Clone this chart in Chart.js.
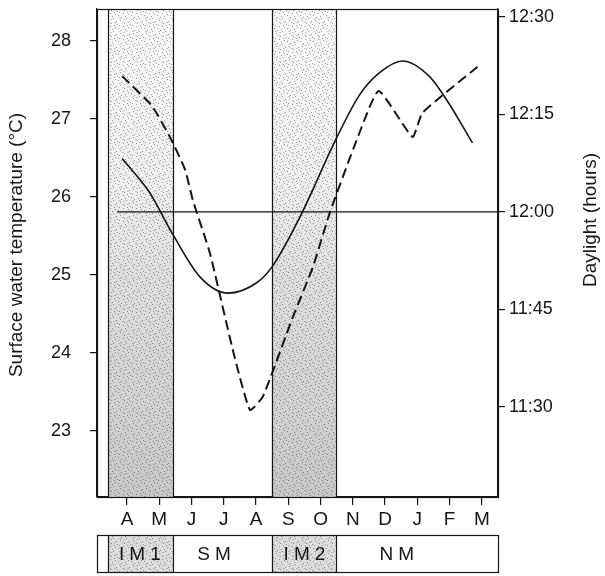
<!DOCTYPE html>
<html>
<head>
<meta charset="utf-8">
<script src="https://cdn.jsdelivr.net/npm/chart.js@4.4.1/dist/chart.umd.min.js"></script>
<style>
    html, body { margin: 0; padding: 0; background: #fff; }
    #wrap { width: 605px; height: 576px; }
</style>
</head>
<body>
<div id="wrap"><canvas id="chart" width="605" height="576"></canvas></div>
<script>
// month axis, x = 0 is April
const months = ['A', 'M', 'J', 'J', 'A', 'S', 'O', 'N', 'D', 'J', 'F', 'M'];

// surface water temperature (dashed), degC
const tempX = [-0.15, 0.77, 1.33, 1.8, 2.04, 2.57, 3.28, 3.81, 4.21, 5.14, 5.76, 6.28, 7.12, 7.8, 8.85, 9.16, 10.87];
const tempC = [27.55, 27.17, 26.77, 26.35, 25.96, 25.28, 24.04, 23.27, 23.44, 24.46, 25.1, 25.79, 26.73, 27.36, 26.77, 27.08, 27.67];

// daylight (solid), minutes after midnight
const dayX = [-0.15, 0.71, 1.39, 2.26, 3.13, 4.02, 4.49, 5.36, 6.47, 7.21, 7.83, 8.54, 9.38, 9.91, 10.71];
const dayMin = [728.2, 722.9, 716.8, 710, 707.5, 709.1, 711.5, 719.2, 731.1, 738, 741.4, 743.2, 740.8, 737.2, 730.6];

// 12:00 reference line
const noonX = [-0.31, 11.5];
const noonMin = [720, 720];

const tempTicks = [23, 24, 25, 26, 27, 28];
const dayTicks = [690, 705, 720, 735, 750];

// monsoon seasons
const seasons = ['IM1', 'SM', 'IM2', 'NM'];
const seasonFrom = [-0.59, 1.42, 4.49, 6.47];
const seasonTo = [1.42, 4.49, 6.47, 11.5];
const seasonShaded = [true, false, true, false];
const seasonLabelAt = [0.4, 2.7, 5.5, 8.36];

const ink = '#151515';
const FONT = "'Liberation Sans', Arial, Helvetica, sans-serif";

function fmtClock(m) {
    const h = Math.floor(m / 60);
    const mm = Math.round(m - h * 60);
    return h + ':' + String(mm).padStart(2, '0');
}

// small fixed speckle tile for the stippled monsoon bands
function makeSpeckle(ctx) {
    const tile = document.createElement('canvas');
    tile.width = 13;
    tile.height = 13;
    const t = tile.getContext('2d');
    t.fillStyle = 'rgba(40,40,40,0.45)';
    [[1, 2], [6, 0], [9, 5], [3, 7], [7, 10], [0, 11], [4, 4], [11, 1], [12, 8], [8, 3], [2, 12], [10, 12]].forEach(function (p) {
        t.fillRect(p[0], p[1], 1, 1);
    });
    t.fillStyle = 'rgba(90,90,90,0.3)';
    [[5, 9], [2, 5], [10, 9], [6, 6]].forEach(function (p) {
        t.fillRect(p[0], p[1], 2, 1);
    });
    return ctx.createPattern(tile, 'repeat');
}

function shadeGradient(ctx, top, bottom) {
    const g = ctx.createLinearGradient(0, top, 0, bottom);
    g.addColorStop(0, '#f8f8f8');
    g.addColorStop(0.35, '#efefef');
    g.addColorStop(0.55, '#dedede');
    g.addColorStop(1, '#c8c8c8');
    return g;
}

const monsoonPlugin = {
    id: 'monsoon',
    beforeDatasetsDraw(chart) {
        const { ctx, chartArea: a, scales: { x } } = chart;
        const speckle = makeSpeckle(ctx);
        ctx.save();
        seasons.forEach(function (name, i) {
            if (!seasonShaded[i]) {
                return;
            }
            const x0 = x.getPixelForValue(seasonFrom[i]);
            const x1 = x.getPixelForValue(seasonTo[i]);
            ctx.fillStyle = shadeGradient(ctx, a.top, a.bottom);
            ctx.fillRect(x0, a.top, x1 - x0, a.bottom - a.top);
            ctx.fillStyle = speckle;
            ctx.fillRect(x0, a.top, x1 - x0, a.bottom - a.top);
            ctx.strokeStyle = ink;
            ctx.lineWidth = 1.2;
            ctx.beginPath();
            ctx.moveTo(Math.round(x0) + 0.5, a.top);
            ctx.lineTo(Math.round(x0) + 0.5, a.bottom);
            ctx.moveTo(Math.round(x1) + 0.5, a.top);
            ctx.lineTo(Math.round(x1) + 0.5, a.bottom);
            ctx.stroke();
        });
        ctx.restore();
    },
    afterDraw(chart) {
        const { ctx, chartArea: a, scales: { x } } = chart;
        const speckle = makeSpeckle(ctx);
        ctx.save();

        // plot frame
        ctx.strokeStyle = ink;
        ctx.lineWidth = 1.2;
        ctx.strokeRect(a.left + 0.5, a.top + 0.5, a.right - a.left, a.bottom - a.top);

        // season strip under the month labels
        const bTop = a.bottom + 38;
        const bBot = a.bottom + 75;
        ctx.fillStyle = '#fff';
        ctx.fillRect(a.left, bTop, a.right - a.left, bBot - bTop);
        seasons.forEach(function (name, i) {
            const x0 = x.getPixelForValue(seasonFrom[i]);
            const x1 = x.getPixelForValue(seasonTo[i]);
            if (seasonShaded[i]) {
                ctx.fillStyle = '#dcdcdc';
                ctx.fillRect(x0, bTop, x1 - x0, bBot - bTop);
                ctx.fillStyle = speckle;
                ctx.fillRect(x0, bTop, x1 - x0, bBot - bTop);
            }
        });
        ctx.strokeStyle = ink;
        ctx.lineWidth = 1.2;
        ctx.strokeRect(a.left + 0.5, bTop + 0.5, a.right - a.left, bBot - bTop);
        ctx.beginPath();
        seasons.forEach(function (name, i) {
            const x0 = Math.round(x.getPixelForValue(seasonFrom[i])) + 0.5;
            ctx.moveTo(x0, bTop);
            ctx.lineTo(x0, bBot);
        });
        ctx.stroke();

        ctx.fillStyle = ink;
        ctx.font = '19px ' + FONT;
        ctx.textAlign = 'center';
        ctx.textBaseline = 'middle';
        ctx.letterSpacing = '5px';
        seasons.forEach(function (name, i) {
            ctx.fillText(name, x.getPixelForValue(seasonLabelAt[i]) + 2.5, (bTop + bBot) / 2 + 1);
        });
        ctx.letterSpacing = '0px';

        // axis titles, both reading bottom to top
        ctx.font = '19px ' + FONT;
        ctx.save();
        ctx.translate(17, 245);
        ctx.rotate(-Math.PI / 2);
        ctx.fillText('Surface water temperature (°C)', 0, 0);
        ctx.restore();
        ctx.save();
        ctx.translate(591, 220);
        ctx.rotate(-Math.PI / 2);
        ctx.fillText('Daylight (hours)', 0, 0);
        ctx.restore();

        ctx.restore();
    },
};

function toPoints(xs, ys) {
    return xs.map(function (v, i) {
        return { x: v, y: ys[i] };
    });
}

new Chart(document.getElementById('chart'), {
    type: 'line',
    data: {
        datasets: [
            {
                label: 'Daylight',
                data: toPoints(dayX, dayMin),
                yAxisID: 'yDay',
                borderColor: ink,
                borderWidth: 1.6,
                pointRadius: 0,
                cubicInterpolationMode: 'monotone',
                fill: false,
            },
            {
                label: 'Surface water temperature',
                data: toPoints(tempX, tempC),
                yAxisID: 'yTemp',
                borderColor: ink,
                borderWidth: 2,
                borderDash: [10, 5],
                pointRadius: 0,
                tension: 0.15,
                fill: false,
            },
            {
                label: '12:00',
                data: toPoints(noonX, noonMin),
                yAxisID: 'yDay',
                borderColor: ink,
                borderWidth: 1.2,
                pointRadius: 0,
                fill: false,
            },
        ],
    },
    options: {
        responsive: false,
        animation: false,
        layout: { padding: { top: 9, left: 0, right: 0, bottom: 0 } },
        plugins: {
            legend: { display: false },
            tooltip: { enabled: false },
        },
        scales: {
            x: {
                type: 'linear',
                min: -0.93,
                max: 11.5,
                afterBuildTicks: function (s) {
                    s.ticks = months.map(function (m, i) {
                        return { value: i };
                    });
                },
                afterFit: function (s) {
                    s.height = 79;
                    s.paddingLeft = 0;
                    s.paddingRight = 0;
                },
                ticks: {
                    autoSkip: false,
                    maxRotation: 0,
                    padding: 3,
                    color: ink,
                    font: { family: FONT, size: 19 },
                    callback: function (v, i) {
                        return months[i];
                    },
                },
                grid: { drawOnChartArea: false, drawTicks: true, tickLength: 8, color: ink, lineWidth: 1.2 },
                border: { display: true, color: ink, width: 1.2 },
            },
            yTemp: {
                position: 'left',
                min: 22.154,
                max: 28.41,
                afterBuildTicks: function (s) {
                    s.ticks = tempTicks.map(function (v) {
                        return { value: v };
                    });
                },
                afterFit: function (s) {
                    s.width = 97;
                    s.paddingTop = 0;
                    s.paddingBottom = 0;
                },
                ticks: {
                    padding: 19,
                    color: ink,
                    font: { family: FONT, size: 18 },
                },
                grid: { drawOnChartArea: false, drawTicks: true, tickLength: 7, color: ink, lineWidth: 1.2 },
                border: { display: true, color: ink, width: 1.2 },
            },
            yDay: {
                position: 'right',
                min: 676.15,
                max: 751.2,
                afterBuildTicks: function (s) {
                    s.ticks = dayTicks.map(function (v) {
                        return { value: v };
                    });
                },
                afterFit: function (s) {
                    s.width = 107;
                    s.paddingTop = 0;
                    s.paddingBottom = 0;
                },
                ticks: {
                    padding: 4,
                    color: ink,
                    font: { family: FONT, size: 18 },
                    callback: function (v) {
                        return fmtClock(v);
                    },
                },
                grid: { drawOnChartArea: false, drawTicks: true, tickLength: 7, color: ink, lineWidth: 1.2 },
                border: { display: true, color: ink, width: 1.2 },
            },
        },
    },
    plugins: [monsoonPlugin],
});
</script>
</body>
</html>
